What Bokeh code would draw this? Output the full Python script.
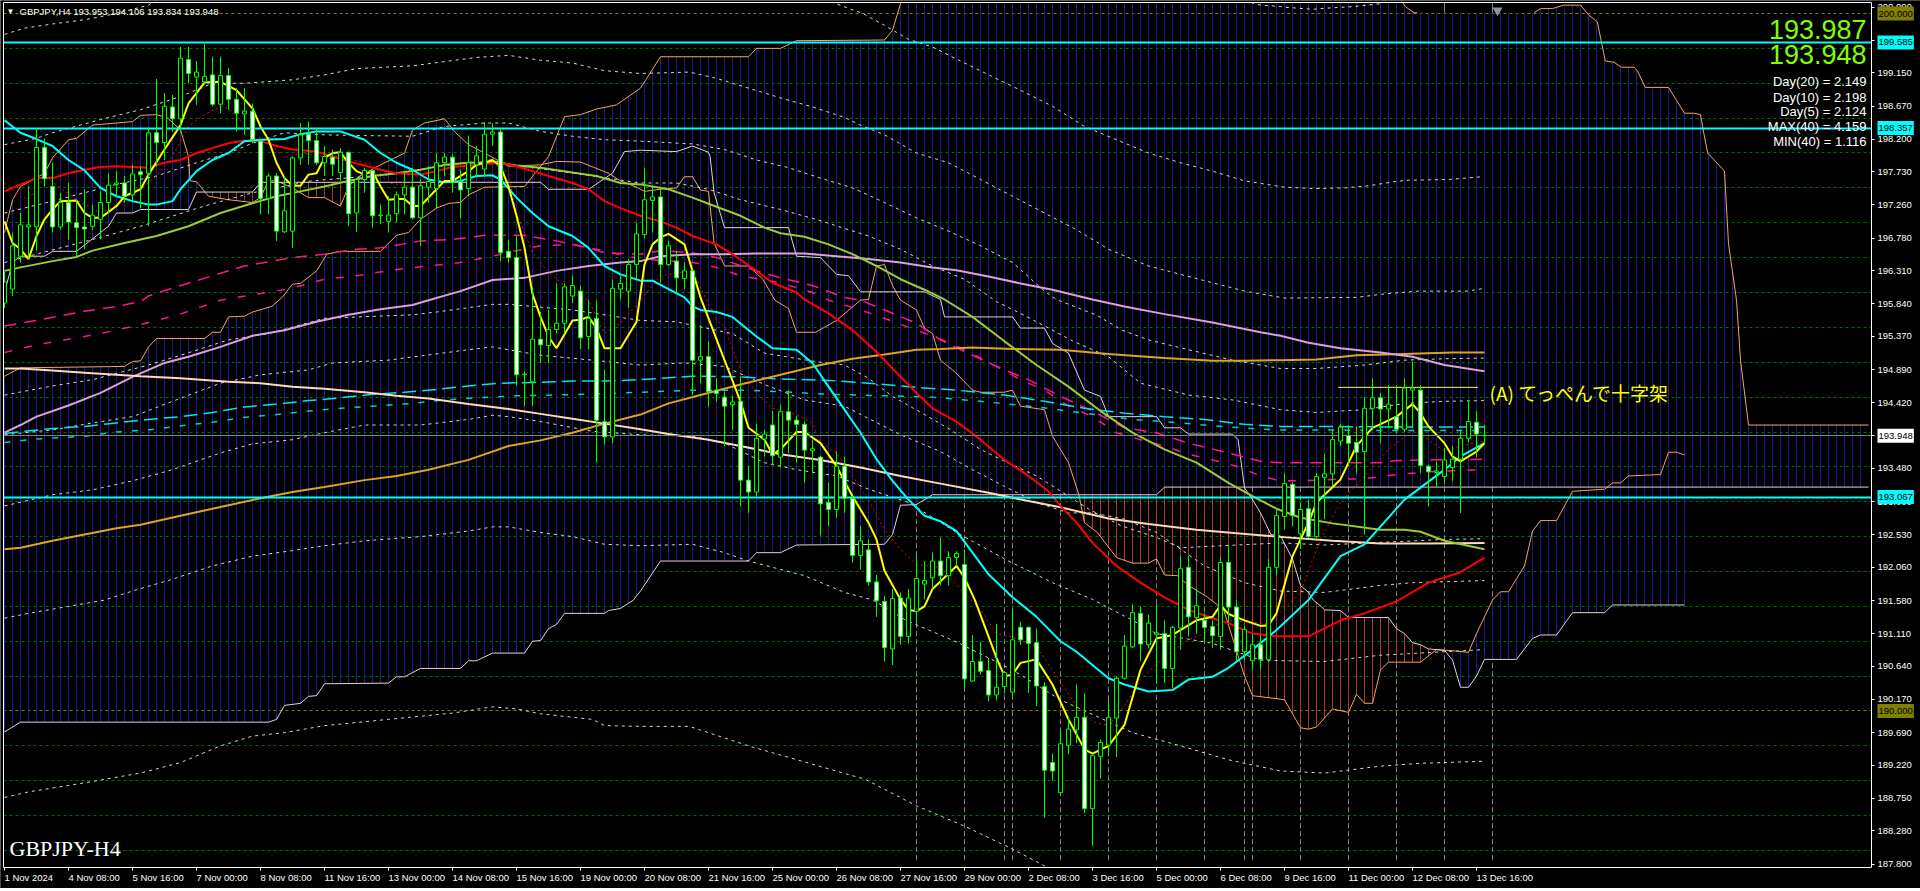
import numpy as np
from bokeh.embed import file_html
from bokeh.resources import INLINE
from bokeh.plotting import figure
from bokeh.models import Range1d, FixedTicker, Label, LinearAxis

# ---------- candles ----------
opens = [195.85,196.05,196.52,196.94,196.94,198.08,197.52,196.94,197.29,197.00,
196.94,196.95,197.05,197.29,197.55,197.57,197.40,197.73,197.71,198.29,
198.15,198.66,198.49,199.34,199.09,199.02,199.12,198.70,199.11,198.77,
198.56,198.60,198.17,197.35,197.67,196.87,196.88,197.93,198.27,198.18,
197.86,197.94,197.72,198.01,197.14,197.62,197.75,197.10,197.02,197.13,
197.40,197.51,197.07,197.51,197.49,197.86,197.94,197.59,197.49,197.83,
197.77,198.27,198.30,196.59,196.50,194.82,194.72,195.33,195.24,195.47,
195.56,195.95,196.02,195.37,195.63,194.15,193.93,196.05,196.02,196.40,
196.83,197.32,197.37,196.40,196.45,196.20,196.31,195.03,195.08,194.60,
194.50,194.39,194.44,193.31,193.14,193.90,194.10,193.64,194.29,194.17,
194.11,193.73,193.64,192.99,192.89,193.51,193.05,192.23,192.31,191.85,
191.57,190.89,191.62,191.07,191.43,191.82,191.91,192.15,191.94,192.20,
192.10,190.43,190.71,190.58,190.23,190.35,190.27,191.20,191.20,190.98,
190.35,189.26,188.83,189.51,189.73,189.91,188.60,189.35,189.51,189.90,
190.47,190.92,191.40,190.95,191.10,191.11,190.61,191.19,192.06,191.34,
191.30,191.21,191.07,192.13,191.49,190.85,190.72,190.95,190.74,192.06,
192.79,193.25,192.54,192.90,192.50,193.35,193.40,193.87,193.95,193.85,
193.72,194.34,194.49,194.33,194.22,194.04,194.60,194.60,193.51,193.42,
193.36,193.49,193.61,193.91,194.14,193.953]
closes = [196.15,196.67,196.97,196.97,198.08,197.63,196.94,197.29,197.01,196.93,
196.91,197.11,197.29,197.54,197.57,197.38,197.70,197.69,198.29,198.15,
198.67,198.49,199.36,199.14,199.16,199.10,198.70,199.11,198.77,198.57,
198.60,198.19,197.35,197.67,196.88,197.17,197.93,198.26,198.18,197.86,
197.95,197.84,198.01,197.13,197.62,197.75,197.10,197.11,197.11,197.40,
197.51,197.07,197.53,197.59,197.86,197.94,197.58,197.47,197.86,197.96,
198.27,198.30,196.57,196.50,194.82,194.83,195.33,195.25,195.47,195.56,
196.08,196.10,195.35,195.63,194.17,193.93,196.06,196.13,196.40,196.84,
197.33,197.37,196.40,196.67,196.21,196.31,195.03,195.08,194.58,194.55,
194.37,194.43,193.31,193.14,193.91,193.97,193.66,194.29,194.17,194.11,
193.74,193.76,192.97,192.89,193.51,193.05,192.23,192.44,191.85,191.58,
190.91,191.61,191.07,191.62,191.90,191.87,192.15,191.94,192.20,192.26,
190.46,190.71,190.57,190.23,190.34,190.55,191.02,191.02,190.97,190.36,
189.15,189.14,189.53,189.74,189.91,188.60,189.36,189.55,189.91,190.47,
190.93,191.41,190.96,191.26,191.12,190.61,191.20,192.04,191.35,191.51,
191.20,191.08,192.13,191.49,190.85,191.17,190.95,190.74,192.06,192.80,
193.26,192.80,192.89,192.50,193.36,193.40,193.89,194.07,193.84,193.71,
194.34,194.49,194.33,194.40,194.04,194.63,194.63,193.52,193.43,193.44,
193.60,193.61,193.91,194.15,193.97,193.948]
highs = [196.30,196.86,197.14,197.52,198.36,198.21,197.86,197.43,197.57,197.33,
197.48,197.26,197.45,197.71,197.74,197.67,197.83,197.81,198.36,199.06,
198.86,198.83,199.52,199.52,199.32,199.56,199.38,199.38,199.22,198.93,
198.93,198.71,198.19,197.71,197.71,197.67,197.95,198.43,198.45,198.36,
198.10,198.05,198.07,198.02,197.64,197.79,197.76,197.26,197.38,197.45,
197.71,197.79,197.62,197.81,198.00,198.00,197.98,197.76,198.25,198.10,
198.44,198.43,198.36,196.76,196.81,194.87,196.08,195.72,195.75,196.13,
196.13,196.24,196.10,195.89,195.89,194.89,196.19,196.24,196.48,197.00,
197.79,197.52,197.48,196.74,196.60,196.43,196.33,195.53,195.30,194.77,
194.58,194.52,194.80,193.51,194.12,194.03,194.30,194.39,194.60,194.23,
194.15,193.89,193.66,193.27,193.72,193.65,193.08,192.65,192.46,191.95,
191.65,191.75,191.70,191.75,192.22,192.15,192.27,192.49,192.29,192.29,
192.32,191.09,190.99,190.76,191.25,190.57,191.45,191.28,191.21,191.18,
190.41,189.39,189.70,189.92,190.38,190.25,189.37,189.59,190.16,190.50,
191.09,191.53,191.50,191.38,191.53,191.30,191.22,192.22,192.22,191.75,
191.40,191.30,192.20,192.37,191.59,191.21,191.10,191.09,192.18,192.91,
193.41,193.28,192.99,193.03,193.41,193.68,194.03,194.12,194.10,194.08,
194.50,194.77,194.56,194.67,194.67,194.77,195.01,194.67,193.53,193.58,
193.77,193.80,194.01,194.46,194.30,194.106]
lows = [195.78,195.95,196.43,196.48,196.60,197.52,196.86,196.90,196.76,196.52,
196.62,196.90,196.76,197.14,197.38,197.29,197.29,197.21,196.95,197.81,
197.90,198.31,198.29,199.00,198.69,198.98,198.67,198.57,198.62,198.31,
198.26,198.14,197.12,197.12,196.74,196.85,196.64,197.83,197.83,197.83,
197.67,197.67,197.60,196.95,196.87,197.43,196.93,196.98,196.86,197.00,
197.12,197.05,196.67,197.29,197.21,197.67,197.43,197.07,197.38,197.67,
197.67,198.10,196.45,196.43,194.67,194.37,194.37,194.99,194.99,195.41,
195.41,195.85,195.19,195.19,193.56,193.82,193.84,195.90,195.78,196.20,
196.78,196.86,196.14,196.38,196.00,196.05,194.53,194.70,194.36,194.44,
193.80,194.03,192.94,192.84,193.08,193.65,193.53,193.49,193.70,193.56,
193.27,193.41,192.52,192.65,192.77,192.84,192.13,192.03,191.80,191.35,
190.71,190.66,190.95,190.97,191.26,191.60,191.75,191.80,191.80,192.08,
190.31,190.42,190.52,190.14,190.15,190.25,190.21,190.95,190.26,190.07,
188.47,189.00,188.81,189.38,189.54,188.54,188.07,189.03,189.35,189.34,
190.45,190.90,190.71,190.90,190.40,190.40,190.33,190.88,191.07,191.11,
191.00,190.90,190.88,191.26,190.71,190.73,190.59,190.59,190.70,191.95,
192.60,192.65,192.32,192.48,192.48,192.75,193.22,193.80,193.51,193.41,
192.53,194.03,193.84,194.05,193.98,194.00,194.06,193.41,192.93,193.22,
193.25,193.30,192.84,193.85,193.64,193.834]

# ---------- moving averages (bar index, price) ----------
yellow_bar = [0,1,2,3,4,5,6,7,9,10,11,12,14,15,17,18,20,22,23,25,27,29,31,32,33,34,35,36,37,38,39,40,41,42,43,44,45,46,47,48,49,50,51,52,53,54,55,56,58,59,60,61,62,63,64,65,66,67,68,69,71,72,73,74,75,77,79,80,81,82,83,85,86,87,90,92,93,95,96,97,99,100,102,104,106,108,109,110,112,113,114,115,116,119,120,121.3,123,124,125,126,127,129,131,133,135,136,138,140,142,144,146,149,151,152,153,155,157,158,159,161,163,164,167,169,171,174,176,177,178,180,181,182,184,185]
yellow_val = [197.02,196.71,196.62,196.48,196.81,197.05,197.19,197.31,197.32,197.14,197.07,197.07,197.24,197.38,197.48,197.69,198.05,198.40,198.71,199.01,199.02,198.90,198.64,198.38,198.19,197.86,197.64,197.53,197.53,197.69,197.71,197.93,198.00,198.01,197.86,197.74,197.69,197.74,197.52,197.33,197.34,197.34,197.24,197.24,197.36,197.48,197.60,197.60,197.74,197.83,197.86,197.90,197.81,197.52,197.10,196.64,195.98,195.65,195.37,195.20,195.60,195.61,195.65,195.49,195.20,195.20,195.58,196.40,196.69,196.79,196.84,196.69,196.31,195.93,195.03,194.44,194.06,193.89,193.68,193.75,194.00,194.00,193.84,193.51,193.08,192.70,192.46,192.01,191.60,191.45,191.43,191.50,191.75,192.08,191.91,191.59,191.07,190.76,190.50,190.52,190.69,190.74,190.38,189.88,189.45,189.39,189.50,189.80,190.59,191.04,191.09,191.30,191.35,191.52,191.39,191.30,191.22,191.23,191.40,192.22,192.70,192.99,193.32,193.80,194.06,194.22,194.40,194.27,194.08,193.84,193.65,193.58,193.72,193.84]

cyan_bar = [0,2,4,6,8,10,12,14,16,18,19,21,22,24,26,28,30,32,35,37,39,42,45,47,49,51,53,55,57,59,61,62,64,66,68,71,73,75,77,79.5,81,83,85,86,87,89,91,94,96,99,101,103,105,107,109,111,113,115,117,119,121,123,126,129,132,134,136,138,140,143,146,148,151,153,156,159,163,167,170,175,180,182,185]
cyan_val = [198.47,198.29,198.20,198.10,197.90,197.75,197.50,197.38,197.31,197.26,197.26,197.31,197.48,197.74,197.90,198.00,198.17,198.19,198.20,198.27,198.31,198.31,198.19,198.00,197.86,197.76,197.62,197.58,197.60,197.67,197.68,197.62,197.36,197.14,196.95,196.81,196.64,196.38,196.26,196.17,196.17,196.05,195.93,195.80,195.75,195.72,195.65,195.37,195.20,195.18,194.99,194.65,194.32,193.99,193.61,193.30,193.03,192.80,192.72,192.58,192.27,191.96,191.63,191.35,191.00,190.85,190.66,190.47,190.38,190.28,190.30,190.45,190.49,190.62,190.88,191.16,191.59,192.22,192.39,193.03,193.46,193.65,193.84]

red_bar = [0,2,4,6,8,10,12,14,18,20,22,24,26,28,30,32,34,36,39,41,43,45,47,49,52,54,56,59,62,64,66,68,71,73,75,77,79.5,82,84,86,89,91,94,96,99,100,103,106,109,111,114,116,119,122,125,128,130.5,132,134,136,139,142,145,148,151,153,156,159,163,167,170,174,178,182,185]
red_val = [197.45,197.55,197.64,197.64,197.71,197.76,197.80,197.81,197.79,197.86,197.90,198.00,198.07,198.14,198.18,198.17,198.10,198.05,198.02,197.95,197.88,197.82,197.76,197.71,197.69,197.74,197.80,197.83,197.86,197.81,197.74,197.67,197.57,197.48,197.31,197.21,197.10,197.02,196.93,196.81,196.69,196.55,196.31,196.14,196.00,195.90,195.70,195.46,195.15,194.91,194.56,194.34,194.15,193.89,193.60,193.37,193.15,192.94,192.70,192.41,192.08,191.84,191.63,191.45,191.33,191.26,191.11,191.07,191.07,191.30,191.40,191.57,191.84,191.99,192.20]

olive_bar = [0,2,6,9,11,15,19,23,27,31,34,37,40,43,46,49,52,55,58,61,64,67,71,74,77,79.5,83,86,89,92,95,97,100,103,106,109,112,115,117.5,121,125,129,133,137,141,145,149,153,156,159,162,166,172,175,177,180,185]
olive_val = [196.31,196.36,196.45,196.51,196.60,196.71,196.81,196.95,197.14,197.28,197.38,197.45,197.52,197.60,197.67,197.71,197.76,197.83,197.86,197.87,197.82,197.79,197.72,197.67,197.57,197.55,197.48,197.36,197.23,197.10,196.93,196.85,196.80,196.69,196.55,196.38,196.19,196.04,195.90,195.65,195.30,194.96,194.65,194.30,193.99,193.75,193.56,193.27,193.08,192.90,192.77,192.69,192.60,192.60,192.57,192.44,192.32]

plum_bar = [0,2,4,8,12,16,20,23,27,31,35,39,43,47,51,53,57,61,65,69,73,77,79.5,82,86,90,94,100,104,108,112,116,119,123,127,131,136,140,145,151,157,159.5,163,167,172,176,180,185]
plum_val = [193.99,194.10,194.22,194.38,194.56,194.79,194.99,195.08,195.22,195.38,195.46,195.58,195.68,195.76,195.82,195.89,196.02,196.18,196.21,196.31,196.38,196.43,196.45,196.52,196.55,196.55,196.56,196.56,196.52,196.48,196.43,196.36,196.32,196.23,196.13,196.04,195.90,195.80,195.69,195.57,195.43,195.38,195.28,195.20,195.14,195.08,194.96,194.87]

peach_bar = [0,2,6,10,14,17,22,28,32,36,40,45,49,53,58,63,67,71,75,79.5,83,88,92,97,102,107,112,117,123,128,132,138,143,149,154,159,166,172,178,185]
peach_val = [194.91,194.91,194.88,194.85,194.82,194.80,194.77,194.72,194.70,194.65,194.62,194.57,194.52,194.48,194.40,194.33,194.26,194.19,194.12,194.04,193.97,193.89,193.80,193.68,193.60,193.49,193.37,193.26,193.13,193.01,192.92,192.76,192.68,192.60,192.55,192.50,192.44,192.40,192.40,192.41]

gold_bar = [0,2,6,10,14,17,22,28,32,36,40,45,49,53,58,63,67,71,75,79.5,83,87,92,97,102,106,110,114,117,121,126,132,138,145,151,155,159.5,164,169,175,181,185]
gold_val = [192.32,192.34,192.44,192.53,192.62,192.67,192.80,192.95,193.05,193.14,193.21,193.31,193.37,193.46,193.60,193.80,193.88,193.99,194.12,194.25,194.41,194.53,194.68,194.82,194.96,195.05,195.11,195.18,195.19,195.21,195.19,195.18,195.12,195.06,195.02,195.02,195.03,195.04,195.10,195.12,195.14,195.14]

thin_red_bar = [0,2,3,5,9,12,15,17,19,21,23,25,27,28,31,33,35,37,40,42,46,48,51,54,57,61,63,64,66,68,71,73,75,77,79.5,82,86,89,90,92,94,96,99,101,102,104,106,108,110,112,114,117,122,124,126,129,131,134,136,138,140,142,145,148,150,151,153,158,162,164.5,167,170,173,176,178,180,182,185]
thin_red_val = [197.57,197.38,197.33,197.67,197.33,197.14,197.31,197.48,197.67,197.95,198.38,198.55,198.67,198.64,198.29,198.14,197.93,198.00,197.95,197.95,197.83,197.57,197.52,197.62,197.76,197.86,197.71,197.14,196.57,196.29,196.00,195.89,195.41,195.56,195.89,196.24,196.31,195.60,195.51,194.89,194.56,194.34,194.25,194.13,193.84,193.70,193.37,193.03,192.60,192.32,192.10,192.06,191.45,191.11,191.06,190.92,190.59,190.07,189.85,189.79,190.07,190.45,190.78,191.02,191.11,191.21,191.30,191.25,191.70,192.46,192.99,193.37,193.75,194.02,193.89,193.72,193.80,193.87]

magenta_up_bar = [0,4,10,14,17,18,22,26,30,36,40,44,47,52,56,60,65,69,73,75,77,79.5,82,86,89,94,97,101,105,107,110,114,117,121,125,128,132,136,140,144,148,153,157,159.5,165,172,174,178,185]
magenta_up_val = [195.52,195.60,195.73,195.80,195.87,195.95,196.10,196.24,196.38,196.50,196.55,196.62,196.64,196.74,196.76,196.82,196.82,196.74,196.64,196.57,196.56,196.55,196.60,196.57,196.50,196.31,196.21,196.10,195.93,195.89,195.75,195.56,195.32,195.10,194.89,194.75,194.51,194.30,194.06,193.99,193.84,193.70,193.58,193.56,193.56,193.56,193.59,193.60,193.61]
magenta_lo_bar = [0,4,10,14,18,22,27,35.5,40,44,49,53,57,61,64,67,71,74,79.5,86,89,92,97,101,103,107,110,114,117,120,124,127,130,133,136,139,142,145,148,151,154,157,159.5,162,166,170,174,178,182,185]
magenta_lo_val = [195.14,195.25,195.37,195.46,195.57,195.69,195.89,196.05,196.19,196.24,196.33,196.38,196.43,196.52,196.60,196.67,196.69,196.62,196.48,196.43,196.36,196.24,196.14,196.00,195.89,195.75,195.63,195.46,195.33,195.18,194.94,194.75,194.60,194.37,194.22,193.99,193.89,193.80,193.68,193.60,193.51,193.37,193.30,193.30,193.32,193.33,193.39,193.43,193.45,193.46]

teal_up_bar = [0,6,10,14,18,22,26,30,34,38,42,46,50,54,58,62,66,71,75,79.5,86,92,97,103,108,114,119,125,130,135,140,145,150,155,159.5,165,175,185]
teal_up_val = [193.98,194.05,194.08,194.13,194.18,194.22,194.28,194.36,194.40,194.45,194.49,194.54,194.57,194.61,194.66,194.70,194.71,194.73,194.73,194.75,194.80,194.79,194.76,194.74,194.70,194.64,194.60,194.53,194.44,194.34,194.27,194.22,194.18,194.11,194.08,194.08,194.07,194.07]
teal_lo_bar = [0,4,10,14,18,22,26,30,34,38,42,46,51,55,59,64,69,75,79.5,86,92,97,103,110,116,122,129,135,141,146,151,157,159.5,165,172,180,185]
teal_lo_val = [193.85,193.90,193.94,194.00,194.03,194.09,194.14,194.21,194.25,194.30,194.34,194.37,194.41,194.46,194.49,194.52,194.53,194.55,194.57,194.60,194.60,194.58,194.54,194.52,194.50,194.44,194.36,194.27,194.18,194.14,194.09,194.04,194.03,194.03,194.02,194.02,194.02]

# ---------- dotted envelopes ----------
band0_bar = [150,156,157,159.5,160,163.6,164.3,168.7,170.3,172,180]
band0_val = [200.60,200.15,200.12,200.10,200.09,200.06,200.07,200.10,200.12,200.14,200.60]
band1a_bar = [0,2.5,6,10,14,18,24]
band1a_val = [199.70,199.79,199.85,199.91,200.00,200.12,200.60]
band1b_bar = [100,103.7,107.3,110,113,116,119.3,123.4,127,131,135,139,143,147,151,155,160,163.8,167.5,170.5,173.8,175.5,180.5,184.7]
band1b_val = [200.50,200.15,200.00,199.83,199.63,199.52,199.33,199.10,198.90,198.67,198.38,198.19,198.00,197.86,197.74,197.60,197.51,197.49,197.50,197.53,197.59,197.61,197.62,197.66]
band2_bar = [0,4,6,12,17,22,26,30,36,40,44,51,55,59,63,67,71,75,79.5,85.6,89,93,97,101,105,107,110,114,118,122,126,130,134,138,143,147,151,155,160,169,172.5,174.6,176.7,182.9,185]
band2_val = [198.12,198.21,198.29,198.48,198.62,198.81,199.00,199.00,199.05,199.12,199.21,199.25,199.31,199.37,199.40,199.33,199.29,199.18,199.14,199.16,199.07,198.93,198.79,198.66,198.51,198.40,198.26,198.00,197.86,197.62,197.38,197.14,196.90,196.62,196.38,196.26,196.14,196.02,195.92,195.93,195.98,196.00,196.02,196.02,196.06]
band3_bar = [0,6,10,14,19,24,28,31,35,40,45,51,55,60,63,67,71,75,79.5,86,90,94,98,102,106,110,114,118,122,126,130,131.5,136.6,139.7,143,148,153.5,159.5,164,170,175,180,185]
band3_val = [197.14,197.31,197.43,197.55,197.67,197.86,198.00,198.14,198.29,198.26,198.25,198.24,198.38,198.43,198.43,198.31,198.24,198.19,198.17,198.13,198.05,197.90,197.79,197.64,197.50,197.29,197.07,196.88,196.67,196.43,196.02,195.90,195.67,195.46,195.32,195.18,195.03,194.91,194.91,194.96,195.03,195.05,195.06]
band4_bar = [0,12,17,25,31,38.3,48,55.6,60.7,64,71,79.5,84,88,92,97,101.4,108,112,116,120,123,124,127,130.5,133.6,138,142,148,153.5,159.5,164,170,175,180,185]
band4_val = [196.43,196.79,196.95,197.24,197.43,197.60,197.69,197.83,197.90,197.82,197.71,197.57,197.57,197.48,197.33,197.19,197.05,196.81,196.62,196.38,196.19,195.95,195.87,195.70,195.49,195.30,195.08,194.70,194.53,194.46,194.32,194.28,194.32,194.41,194.44,194.45]
band5_bar = [0,6,11,18,22,28,33,40,51,54,61,63,71,79.5,84,86,91,93,95,101.4,105,108,111,114.7,118.3,122,125.4,129,133,135.6,139.7,144,147,159.5,165,180,185]
band5_val = [194.53,194.66,194.75,194.96,195.10,195.32,195.41,195.63,195.68,195.72,195.83,195.83,195.75,195.60,195.58,195.53,195.41,195.27,195.13,195.01,194.96,194.77,194.51,194.27,194.03,193.75,193.56,193.37,193.08,192.89,192.65,192.49,192.34,192.41,192.38,192.46,192.47]
band6_bar = [0,6,11,16,21,27,32,38,41,48,58,61,63,67,73.5,79.5,85,90,95,100,105,112,117,121,125,129,133,136,140,144,150,155,159.5,165,172,176,185]
band6_val = [193.96,194.03,194.13,194.22,194.44,194.70,194.82,194.89,194.99,195.03,195.18,195.22,195.18,195.10,195.03,194.96,194.99,194.94,194.68,194.46,194.37,193.96,193.72,193.46,193.22,192.99,192.84,192.84,192.75,192.56,192.08,191.84,191.72,191.70,191.80,191.84,191.87]
band7_bar = [0,6,11,16,21,27,31,36,40,45,52,58,61,63,67,73.5,79.5,86,90,95,99,104,108,113,119,125,131,136,141,144,151,157,160,165,172,180,185]
band7_val = [192.94,193.10,193.17,193.30,193.46,193.70,193.83,193.89,193.99,194.10,194.10,194.18,194.24,194.22,194.15,194.01,193.96,193.94,193.84,193.56,193.46,193.37,193.18,192.99,192.56,192.18,191.84,191.60,191.30,191.11,190.97,190.73,190.72,190.71,190.80,190.85,190.88]
band8_bar = [0,3,8,12.5,16,21,26,31,36,40,45,52,58,61,63,67,71,75,79.5,86,90,93,100,105,108.6,112.7,119,126,132,141,147,153,159.5,165,172,177,185]
band8_val = [191.33,191.40,191.50,191.59,191.72,191.89,192.08,192.22,192.30,192.37,192.44,192.50,192.58,192.64,192.64,192.56,192.50,192.39,192.37,192.39,192.27,192.15,191.94,191.70,191.59,191.30,190.99,190.59,190.16,189.69,189.50,189.30,189.14,189.11,189.21,189.25,189.28]
band9_bar = [0,3,10,17,22,27,31,35,40,48,56,61,64,67,73.5,75,79.5,85.6,93,107.6,114,120,126,130,135]
band9_val = [188.76,188.84,188.97,189.11,189.26,189.50,189.64,189.69,189.79,189.88,189.97,190.06,190.03,189.96,189.88,189.79,189.78,189.78,189.50,189.02,188.64,188.35,188.02,187.78,187.40]

# ---------- clouds ----------
wide_top_bar = [0,2,15,16,17,18,19,25,26,27,28,30,31,33.4,34.7,36,37,39,40.3,42,47,49,50.5,52,54,55.6,57,58,60,65,68,70,72,74,76.5,79.5,82,93,94,97,99,110,111,112,114,172,174.8,175.1,176.2,176.6]
wide_top_val = [194.80,194.92,194.94,195.01,195.02,195.22,195.34,195.34,195.43,195.43,195.65,195.66,195.72,195.80,195.93,196.12,196.13,196.31,196.55,196.59,196.59,196.82,196.86,197.05,197.21,197.28,197.29,197.40,197.51,197.52,197.95,198.52,198.55,198.63,198.69,198.93,199.38,199.38,199.50,199.50,199.61,199.62,199.76,200.14,201.20,201.20,200.15,200.10,200.01,200.01]
wide_top2_bar = [191.2,192,193.5,194.9,197,198,199.1,199.4,200.1,201.2,202.1,203.7,204.1,205.1,208,210,211.2,212,212.4,212.9,215,215.5,216.5,217,218,233]
wide_top2_val = [200.01,200.07,200.07,200.12,200.12,199.98,199.88,199.71,199.32,199.30,199.23,199.23,199.18,198.94,198.94,198.57,198.57,198.55,198.29,198.00,197.74,196.70,195.89,195.03,194.10,194.10]
wide_low_bar = [0,2,33,34,35,37,38,39,40,48,49,50,52,57,58,59,61,65,66,67,68,69,70,75,75.5,77,78.6,79.5,82,93,94,97,99,110,111,112,114,116,144,145,233]
wide_low_val = [189.70,189.84,189.84,189.88,190.08,190.11,190.21,190.22,190.39,190.40,190.49,190.49,190.61,190.61,190.72,190.72,190.83,190.83,191.00,191.01,191.18,191.24,191.40,191.40,191.44,191.47,191.59,191.72,192.15,192.15,192.27,192.27,192.38,192.39,192.53,192.95,192.96,193.10,193.10,193.21,193.21]
span_a_bar = [0,1,2,5,6,8,9,11,16,17,19,20.4,22,23,23.2,24,25.5,28,31,32,33,34,36,38,40,42,43,44.4,47,50,51,52.5,55,56.4,58,60,63,67,69,72,75.5,77,79,80,82,84,85,86,87,88,88.7,90,93,94.8,96.3,98,99,101.4,104,107,108,109,110,111,112,114,115,116,117,119,121,122,125,126,127,130,131,133,134.3,135,136.6,139,141,143,144,145,146.6,148,150.4,152.4,155,156,159.5,160,162,163,164,166,168,169,170,171,172,173,177,179,181.4,183,184,186,187,188,190,191,192,194,196,200,201,202,203,207,208,209,210]
span_a_val = [196.86,197.33,197.52,197.71,197.93,198.19,198.21,198.40,198.45,198.54,198.55,198.50,198.33,197.95,197.60,197.59,197.38,197.33,197.29,197.36,197.60,197.60,197.50,197.36,197.36,197.24,197.52,197.67,197.83,198.00,198.33,198.43,198.49,198.29,198.12,198.00,197.81,197.83,197.88,197.87,197.71,197.60,197.51,197.45,197.48,197.50,197.66,197.66,197.47,197.45,196.71,196.38,196.38,196.19,195.89,195.77,195.43,195.43,195.60,195.89,195.90,196.38,196.40,196.10,195.89,195.75,195.49,195.41,195.03,194.84,194.60,194.57,194.57,194.60,194.37,194.32,193.94,193.56,193.10,192.70,192.56,192.20,192.12,192.12,192.18,191.95,191.94,191.80,191.63,191.45,190.50,190.22,190.17,190.16,189.76,189.74,189.77,190.03,189.98,190.24,190.11,190.11,190.59,190.70,190.70,190.88,190.86,190.84,191.11,191.59,191.71,191.71,192.08,192.58,192.73,192.73,193.15,193.18,193.27,193.27,193.37,193.39,193.71,193.71,193.67]
span_b_bar = [0,1,2,5,6,9,13,14,16,17,23,24,31,32,67,68,73,76,77.5,79.5,84,86,88,88.2,88.7,90,98,99,102,104,105.5,107,115,117,117.5,126,127,130,131,133,135,137,138,144,145,147,148,153.5,154.2,155,156,157,158.3,159.5,161,162,163,163.6,164.6,165,167,168,173,174,175,176,177,178,180,181,182,183,184,185,189,191,192,194,196,200,201,210]
span_b_val = [196.00,196.43,196.52,196.52,196.59,196.59,196.95,197.14,197.14,197.19,197.19,197.44,197.44,197.58,197.58,197.48,197.48,197.71,198.02,198.04,198.02,198.10,198.01,197.95,197.43,196.93,196.93,196.52,196.50,196.26,196.24,196.01,196.01,195.90,195.65,195.65,195.49,195.49,195.27,195.13,194.60,194.51,194.22,194.22,194.06,194.06,193.97,193.97,193.89,193.20,193.03,192.84,192.53,192.51,192.18,191.80,191.70,191.59,191.50,191.45,191.44,191.34,191.34,191.18,191.11,190.98,190.95,190.89,190.87,190.73,190.34,190.34,190.50,190.74,190.74,191.04,191.09,191.09,191.41,191.41,191.52,191.52]

# ---------- levels, ticks and texts ----------
grid_levels = [188.0,188.5,189.0,189.5,190.5,191.0,191.5,192.0,192.5,193.0,193.5,194.0,194.5,195.0,195.5,196.0,196.5,197.0,197.5,198.0,198.5,199.0,199.5]
round_levels = [190.0,200.0]
cyan_levels = [199.585,198.357,193.067]
price_level = [193.948]
separator_bars = [114,120,125,126,132,138,144,150,155,156,162,168,174,180,186]
top_mark_bars = [180,186]
peak_line_bar = [166.7,184.2]
peak_line_val = [194.64,194.64]
price_ticks = [200.09,199.62,199.15,198.67,198.2,197.73,197.26,196.78,196.31,195.84,195.37,194.89,194.42,193.95,193.48,193.0,192.53,192.06,191.58,191.11,190.64,190.17,189.69,189.22,188.75,188.28,187.8]
date_bars = [0,8,16,24,32,40,48,56,64,72,80,88,96,104,112,120,128,136,144,152,160,168,176,184]
date_labels = ["1 Nov 2024","4 Nov 08:00","5 Nov 16:00","7 Nov 00:00","8 Nov 08:00","11 Nov 16:00","13 Nov 00:00","14 Nov 08:00","15 Nov 16:00","19 Nov 00:00","20 Nov 08:00","21 Nov 16:00","25 Nov 00:00","26 Nov 08:00","27 Nov 16:00","29 Nov 00:00","2 Dec 08:00","3 Dec 16:00","5 Dec 00:00","6 Dec 08:00","9 Dec 16:00","11 Dec 00:00","12 Dec 08:00","13 Dec 16:00"]
stat_labels = ["Day(20) = 2.149","Day(10) = 2.198","Day(5) = 2.124","MAX(40) = 4.159","MIN(40) = 1.116"]
big_labels = ["193.987","193.948"]
tag_prices = [200.0,199.585,198.357,193.948,193.067,190.0]
tag_labels = ["200.000","199.585","198.357","193.948","193.067","190.000"]
tag_colors = ["#808000","#00ffff","#00ffff","#ffffff","#00ffff","#808000"]

FONT = "Liberation Sans"
X0, Y0, PXB, PXU = 4.0, 13.0, 8.0, 69.75
def bx(px): return (px - X0) / PXB
def py(y): return 200.0 - (y - Y0) / PXU
def snap(level):
    # put a horizontal level on a whole pixel row so that it draws crisply
    return py(round(Y0 + (200.0 - level) * PXU))

W, H = 1920, 888
p = figure(width=W, height=H, output_backend="svg", toolbar_location=None,
           x_range=Range1d(bx(0), bx(W)), y_range=Range1d(py(H), py(0)),
           x_axis_location=None, y_axis_location=None,
           min_border_left=0, min_border_right=0, min_border_top=0, min_border_bottom=0,
           background_fill_color="#000000", border_fill_color="#000000",
           outline_line_color=None, tools="")
p.grid.visible = False

ax = LinearAxis(fixed_location=bx(1871), bounds=(py(867), py(2)), ticker=FixedTicker(ticks=price_ticks))
ax.major_label_overrides = {t: f"{t:.3f}" for t in price_ticks}
ax.major_label_text_color = "#ffffff"
ax.major_label_text_font = FONT
ax.major_label_text_font_size = "9.5px"
ax.major_label_standoff = 3
ax.major_tick_in = 0
ax.major_tick_out = 3
ax.minor_tick_line_color = None
ax.axis_line_color = "#ffffff"
ax.major_tick_line_color = "#ffffff"
p.add_layout(ax, "right")

dx = LinearAxis(fixed_location=py(867), bounds=(bx(3), bx(1871)), ticker=FixedTicker(ticks=date_bars))
dx.major_label_overrides = {t: " " for t in date_bars}
dx.major_label_text_font_size = "1px"
dx.major_tick_in = 0
dx.major_tick_out = 3
dx.minor_tick_line_color = None
dx.axis_line_color = "#ffffff"
dx.major_tick_line_color = "#ffffff"
p.add_layout(dx, "below")

xl, xr = bx(3), bx(1871)
# grid
p.multi_line([[xl, xr]] * len(grid_levels), [[snap(g), snap(g)] for g in grid_levels], line_color="#006e00", line_dash="3 3", line_width=1)
p.multi_line([[xl, xr]] * len(round_levels), [[snap(g), snap(g)] for g in round_levels], line_color="#808000", line_dash="3 3", line_width=1)
# separators
p.segment(separator_bars, [193.21] * len(separator_bars), separator_bars, [187.83] * len(separator_bars), line_color="#808080", line_dash="5 3", line_width=1)
p.segment(top_mark_bars, [200.16] * 2, top_mark_bars, [199.99] * 2, line_color="#808080", line_width=1)

# cloud hatches (each bar joins the two drawn cloud borders); the wide cloud lies on top
cl_bars = np.arange(0, 211)
sa = np.interp(cl_bars, span_a_bar, span_a_val)
sb = np.interp(cl_bars, span_b_bar, span_b_val)
cols = ["#1c1c8c" if a >= b else "#a03c28" for a, b in zip(sa, sb)]
p.segment(cl_bars, sa, cl_bars, sb, line_color=cols, line_width=1)
wide_bars = np.arange(0, 233)
top_b = np.concatenate([wide_top_bar, wide_top2_bar])
top_v = np.concatenate([wide_top_val, wide_top2_val])
p.segment(wide_bars, np.interp(wide_bars, top_b, top_v), wide_bars, np.interp(wide_bars, wide_low_bar, wide_low_val), line_color="#1c1c8c", line_width=1)

# cloud borders
p.line(wide_top_bar, wide_top_val, line_color="#f4a460", line_width=1)
p.line(wide_top2_bar, wide_top2_val, line_color="#f4a460", line_width=1)
p.line(wide_low_bar, wide_low_val, line_color="#e6cfe0", line_width=1)
p.line(span_a_bar, span_a_val, line_color="#f4a460", line_width=1)
p.line(span_b_bar, span_b_val, line_color="#e6cfe0", line_width=1)

# envelopes
for b, v in [(band0_bar, band0_val), (band1a_bar, band1a_val), (band1b_bar, band1b_val), (band2_bar, band2_val),
             (band3_bar, band3_val), (band4_bar, band4_val), (band5_bar, band5_val), (band6_bar, band6_val),
             (band7_bar, band7_val), (band8_bar, band8_val), (band9_bar, band9_val)]:
    p.line(b, v, line_color="#d8d8d8", line_width=1, line_dash="3 4")

# dashed averages
p.line(magenta_up_bar, magenta_up_val, line_color="#ff1493", line_width=1.5, line_dash="12 8")
p.line(magenta_lo_bar, magenta_lo_val, line_color="#ff1493", line_width=1.5, line_dash="8 12")
p.line(teal_up_bar, teal_up_val, line_color="#00e5ee", line_width=1.5, line_dash="14 6")
p.line(teal_lo_bar, teal_lo_val, line_color="#00ced1", line_width=1.5, line_dash="6 10")
p.line(thin_red_bar, thin_red_val, line_color="#ff0000", line_width=1, line_dash="2 3")

# solid averages
p.line(gold_bar, gold_val, line_color="#daa520", line_width=2)
p.line(plum_bar, plum_val, line_color="#dda0dd", line_width=2)
p.line(peach_bar, peach_val, line_color="#ffdab9", line_width=2)
p.line(olive_bar, olive_val, line_color="#9acd32", line_width=2)
p.line(red_bar, red_val, line_color="#ff0000", line_width=2)
p.line(cyan_bar, cyan_val, line_color="#00ffff", line_width=2)
p.line(yellow_bar, yellow_val, line_color="#ffff00", line_width=2)

# horizontal levels
p.multi_line([[xl, xr]] * len(price_level), [[snap(g), snap(g)] for g in price_level], line_color="#808080", line_width=1)
p.multi_line([[xl, xr]] * len(cyan_levels), [[snap(g), snap(g)] for g in cyan_levels], line_color="#00ffff", line_width=2)
p.line(peak_line_bar, peak_line_val, line_color="#ffff00", line_width=1)

# candles
bars = np.arange(len(opens))
o, c, h, l = map(np.array, (opens, closes, highs, lows))
up = c >= o
p.segment(bars, l, bars, h, line_color="#00ff00", line_width=1)
p.vbar(bars[up], 0.5, o[up], c[up], fill_color="#000000", line_color="#00ff00", line_width=1)
p.vbar(bars[~up], 0.5, c[~up], o[~up], fill_color="#ffffff", line_color="#00ff00", line_width=1)

# shift marker
p.scatter([bx(1497)], [py(10)], marker="inverted_triangle", size=10, fill_color="#8c96a0", line_color=None)

# margins around the chart box, and its left and top edges
p.quad(left=[bx(0), bx(0), bx(0), bx(1871)], right=[bx(W), bx(W), bx(3), bx(W)],
       bottom=[py(2), py(H), py(H), py(H)], top=[py(0), py(867), py(0), py(0)],
       fill_color="#000000", line_color=None)
p.segment([bx(3), bx(3)], [py(2), py(2)], [bx(1871), bx(3)], [py(2), py(867)], line_color="#ffffff", line_width=1)

def lab(text, x, y, size, color="#ffffff", font=FONT, align="left", **kw):
    p.add_layout(Label(x=x, y=y, text=text, text_color=color, text_font=font, text_font_size=size,
                       text_align=align, text_baseline="middle", level="overlay", **kw))

for bar, t in zip(date_bars, date_labels):
    lab(t, bar, py(877), "9.5px")
lab("▼", bx(6), py(11), "8px")
lab("GBPJPY,H4  193.953 194.106 193.834 193.948", bx(19), py(11), "9.5px")
lab("GBPJPY-H4", bx(9), py(848), "22px", font="Liberation Serif")
lab("(A)  てっぺんで十字架", bx(1489), py(392), "19px", color="#ffff00", font="Noto Sans CJK JP")
for t, y in zip(big_labels, [29, 54]):
    lab(t, bx(1866), py(y), "27px", color="#7fff00", align="right")
for t, y in zip(stat_labels, [81, 96.5, 111, 126, 141]):
    lab(t, bx(1866), py(y), "13px", align="right")
for pr, t, col in zip(tag_prices, tag_labels, tag_colors):
    lab(t, bx(1877), pr, "9.5px", color="#000000", background_fill_color=col, padding=(1, 4))

open("out.html", "w").write(file_html(p, INLINE))
